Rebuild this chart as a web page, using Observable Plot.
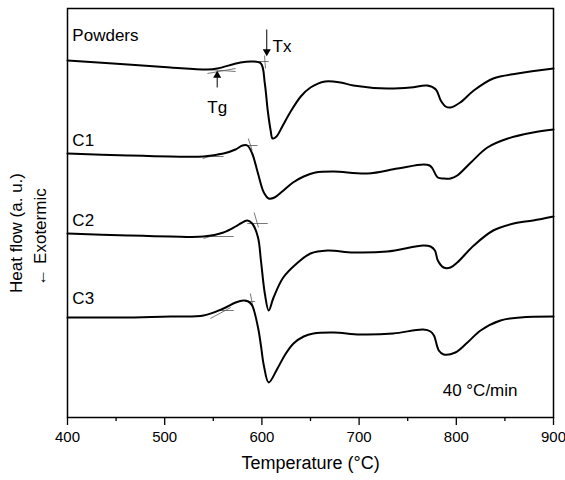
<!DOCTYPE html>
<html><head><meta charset="utf-8">
<script src="https://cdn.jsdelivr.net/npm/d3@7"></script>
<script src="https://cdn.jsdelivr.net/npm/@observablehq/plot@0.6"></script>
<style>body{margin:0;background:#fff;font-family:"Liberation Sans",Arial,sans-serif}</style>
</head><body><div id="chart"></div>
<script>
// Temperatures (°C) and heat flow (a.u., curves offset vertically)
const powdersT = [400,462,506,544,554,578,590,599,603,606,609,611,615,621,629,640,650,665,681,694,729,753,770,779,784,789,794,804,818,838,863,900];
const powdersH = [35.7,35.3,35.0,34.8,34.9,35.5,35.6,35.4,33.4,30.7,28.7,27.9,28.1,29.1,30.5,32.1,33.0,33.6,33.5,33.2,32.9,33.0,33.2,32.8,31.7,31.1,31.0,31.5,32.7,33.9,34.4,34.9];
const c1T = [400,462,506,540,560.5,572.8,580,585,590,596,602,607,613,621,632,643,655,673.7,708.6,739.5,766.3,772.5,775.5,781,787,794,801,815,832,853,879,900];
const c1H = [26.4,26.2,26.1,26.1,26.4,26.8,27.2,27.2,26.4,24.4,22.5,21.9,22.0,22.6,23.5,24.1,24.5,24.6,24.4,24.9,25.3,25.2,24.9,24.0,23.9,23.9,24.2,25.5,27.0,27.9,28.5,28.8];
const c2T = [400,462,506,540,560.5,573,578,585,590,596,599,603,607,612,622,637,650,667.5,694,729,766,773.5,778,781,787,794,801,818,838,859,879,900];
const c2H = [18.4,18.2,18.1,18.1,18.5,19.1,19.4,19.7,19.4,18.0,15.7,12.4,10.7,12.0,14.0,15.5,16.4,16.7,16.5,16.6,17.2,17.1,16.7,15.7,15.0,15.0,15.5,17.2,18.7,19.4,19.7,20.1];
const c3T = [400,462,506,540,560.5,573,581,586,590,596,599,602,607,616,624,632.5,643,653,674,701,735,766,773.5,777,782,787,799,811.5,825,845.5,866,900];
const c3H = [10.0,10.0,10.1,10.2,10.9,11.5,11.7,11.6,11.2,9.0,7.2,5.2,3.5,4.9,6.3,7.4,8.1,8.4,8.5,8.3,8.4,8.8,8.6,8.2,6.7,6.3,6.5,7.5,8.7,9.7,10.0,10.1];

const seriesNames = ["Powders","C1","C2","C3"];
const seriesT = [powdersT,c1T,c2T,c3T];
const seriesH = [powdersH,c1H,c2H,c3H];
const labelH = [38.2,27.7,19.7,11.9];

// tangent construction lines: [T1,H1,T2,H2]
const tangents = [
  [544,34.4,573,34.9],[544,34.8,573,34.6],[590,35.6,607,35.6],[602.7,36.2,603.7,34.9],
  [540,26.1,560.5,26.1],[539,25.9,557.4,26.4],[583,27.2,595.5,27.2],[586,27.9,590,26.7],
  [540,18.1,571,18.1],[540,17.9,560.5,18.5],[585,19.4,606,19.4],[592,20.5,596.5,19.0],
  [554,10.7,571,10.7],[547,9.9,568,11.0],[583,11.6,593,11.6],[588,12.4,591,11.0]
];
// Tg / Tx markers: label, T, arrow start H, arrow tip H, label position
const markers = [
  {label:"Tg", T:554, h1:33.0, h2:34.2, lt:554, lh:31.0, rot:0},
  {label:"Tx", T:605, h1:38.8, h2:36.6, lt:611, lh:37.1, rot:180}
];
const xTicks = [400,500,600,700,800,900];
const xMinor = [450,550,650,750,850];

const curves = seriesNames.flatMap((name,i) => seriesT[i].map((t,j) => ({name, t, h: seriesH[i][j]})));
const labels = seriesNames.map((name,i) => ({name, t:405, h:labelH[i]}));
const tang = tangents.map(([a,b,c,d]) => ({x1:a,y1:b,x2:c,y2:d}));

const font = "Liberation Sans, Arial, sans-serif";
const chart = Plot.plot({
  width: 565, height: 480,
  marginLeft: 67, marginRight: 12, marginTop: 8, marginBottom: 63,
  style: {fontFamily: font, fontSize: "15px", color: "#000", background: "#fff"},
  x: {domain: [400, 900]},
  y: {domain: [0, 40.9], axis: null},
  marks: [
    Plot.axisX({ticks: xMinor, tickSize: 4, tickFormat: () => "", stroke: "#000", strokeWidth: 1.3, label: null}),
    Plot.axisX({ticks: xTicks, tickSize: 8, tickPadding: 6, tickFormat: d => d, stroke: "#000", strokeWidth: 1.3, fontSize: 15, label: null}),
    Plot.link(tang, {x1:"x1", y1:"y1", x2:"x2", y2:"y2", stroke:"#555", strokeWidth: 0.8}),
    Plot.line(curves, {x:"t", y:"h", z:"name", stroke:"#000", strokeWidth: 2, curve:"catmull-rom"}),
    Plot.text(labels, {x:"t", y:"h", text:"name", textAnchor:"start", fontSize: 17, fill:"#000"}),
    Plot.link(markers, {x1:"T", x2:"T", y1:"h1", y2:"h2", stroke:"#000", strokeWidth: 1}),
    Plot.dot(markers, {x:"T", y:"h2", symbol:"triangle", r: 3, fill:"#000", stroke:"none", rotate:"rot"}),
    Plot.text(markers.filter(d => d.label === "Tg"), {x:"lt", y:"lh", text:"label", textAnchor:"middle", fontSize: 17, fill:"#000"}),
    Plot.text(markers.filter(d => d.label === "Tx"), {x:"lt", y:"lh", text:"label", textAnchor:"start", fontSize: 17, fill:"#000"}),
    Plot.text(["40 °C/min"], {x: 786, y: 2.7, text: d => d, textAnchor:"start", fontSize: 17, fill:"#000"}),
    Plot.text(["Temperature (°C)"], {frameAnchor:"bottom", dy: 51, text: d => d, textAnchor:"middle", fontSize: 18, fill:"#000"}),
    Plot.text(["Heat flow (a. u.)"], {frameAnchor:"left", dx: -51, dy: 20, rotate: -90, text: d => d, textAnchor:"middle", fontSize: 17, fill:"#000"}),
    Plot.text(["← Exotermic"], {frameAnchor:"left", dx: -27, dy: 24, rotate: -90, text: d => d, textAnchor:"middle", fontSize: 17, fill:"#000"}),
    Plot.frame({stroke:"#000", strokeWidth: 1.5})
  ]
});
document.getElementById("chart").append(chart);
</script></body></html>
